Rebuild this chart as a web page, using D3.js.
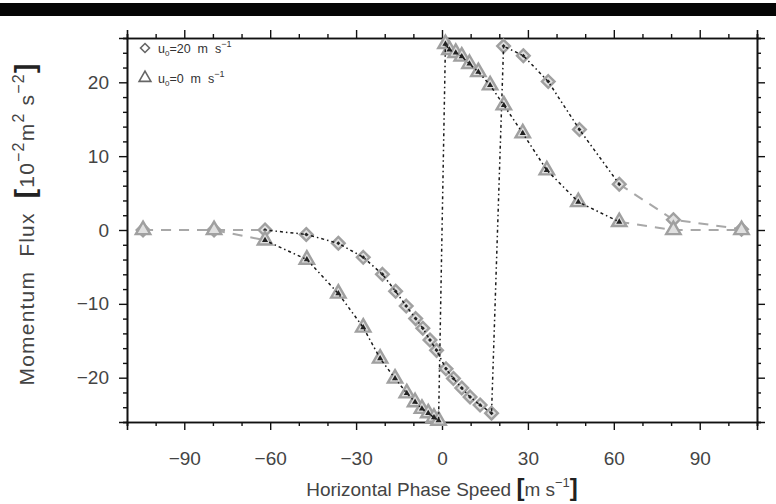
<!DOCTYPE html>
<html>
<head>
<meta charset="utf-8">
<script src="https://cdn.jsdelivr.net/npm/d3@7"></script>
<style>
  body { margin: 0; background: #fff; }
  svg { display: block; font-family: "Liberation Sans", Arial, sans-serif; }
  text { white-space: pre; }
</style>
</head>
<body>
<div id="chart"></div>
<script>
// phase speed (m/s) and momentum flux (10^-2 m^2 s^-2)
const speedU20 = [-104.4, -79.6, -61.8, -47.4, -36.2, -27.5, -20.8, -16.2, -12.5, -9.2, -6.7, -4.2, -1.9,
                  1.4, 4.0, 6.9, 9.8, 13.3, 17.3, 21.5, 28.4, 37.1, 48.0, 61.9, 80.8, 104.6];
const fluxU20  = [0, 0, 0, -0.6, -1.8, -3.7, -6.0, -8.3, -10.3, -12.0, -13.3, -14.9, -16.3,
                  -18.8, -20.1, -21.4, -22.6, -23.7, -24.8, 24.9, 23.6, 20.1, 13.6, 6.2, 1.4, 0.1];

const speedU0 = [-104.4, -79.6, -61.8, -47.2, -36.2, -27.5, -21.6, -16.4, -12.3, -9.4, -7.0, -4.8, -2.8, -1.2,
                 1.2, 2.6, 4.8, 6.9, 9.6, 12.7, 16.8, 21.6, 28.2, 36.6, 47.6, 61.9, 80.8, 104.6];
const fluxU0  = [0, 0, -1.4, -4.0, -8.6, -13.2, -17.4, -20.1, -22.1, -23.3, -24.2, -24.8, -25.4, -25.8,
                 25.2, 24.4, 24.0, 23.5, 22.5, 21.4, 19.6, 16.9, 13.1, 8.1, 3.8, 1.1, 0, 0];

const xMajor = [-90, -60, -30, 0, 30, 60, 90];
const yMajor = [-20, -10, 0, 10, 20];
const innerLimit = 62;   // inside this the dark dash-dot curve is drawn

const W = 776, H = 504;
const m = { top: 38, right: 19, bottom: 82, left: 127 };
const w = W - m.left - m.right, h = H - m.top - m.bottom;

const svg = d3.select("#chart").append("svg").attr("width", W).attr("height", H);

// black strip at the top of the figure
svg.append("rect").attr("x", 0).attr("y", 3).attr("width", W).attr("height", 13).attr("fill", "#050505");

const g = svg.append("g").attr("transform", `translate(${m.left},${m.top})`);

const x = d3.scaleLinear().domain([-110, 110]).range([0, w]);
const y = d3.scaleLinear().domain([-26, 26]).range([h, 0]);

const xMinor = d3.range(-110, 111, 10).filter(v => !xMajor.includes(v));
const yMinor = d3.range(-26, 27, 2).filter(v => !yMajor.includes(v));

function styleAxis(sel) {
    sel.select(".domain").attr("stroke", "#111").attr("stroke-width", 1.6);
    sel.selectAll(".tick line").attr("stroke", "#111").attr("stroke-width", 1.4);
    sel.selectAll(".tick text").attr("fill", "#444").style("font-size", "19px");
}

// minor ticks on all sides
g.append("g").attr("transform", `translate(0,${h})`)
    .call(d3.axisBottom(x).tickValues(xMinor).tickSize(4).tickFormat("")).call(styleAxis);
g.append("g").call(d3.axisTop(x).tickValues(xMinor).tickSize(4).tickFormat("")).call(styleAxis);
g.append("g").call(d3.axisLeft(y).tickValues(yMinor).tickSize(4).tickFormat("")).call(styleAxis);
g.append("g").attr("transform", `translate(${w},0)`)
    .call(d3.axisRight(y).tickValues(yMinor).tickSize(4).tickFormat("")).call(styleAxis);

// major ticks
const fmt = d => d < 0 ? "\u2212" + Math.abs(d) : String(d);
g.append("g").attr("transform", `translate(0,${h})`)
    .call(d3.axisBottom(x).tickValues(xMajor).tickSize(8).tickPadding(22).tickFormat(fmt)).call(styleAxis);
g.append("g").call(d3.axisTop(x).tickValues(xMajor).tickSize(8).tickFormat("")).call(styleAxis);
g.append("g").call(d3.axisLeft(y).tickValues(yMajor).tickSize(8).tickPadding(10).tickFormat(fmt)).call(styleAxis);
g.append("g").attr("transform", `translate(${w},0)`)
    .call(d3.axisRight(y).tickValues(yMajor).tickSize(8).tickFormat("")).call(styleAxis);

const diamond = { draw(ctx, size) { const r = Math.sqrt(size) / 2;
    ctx.moveTo(0, -r); ctx.lineTo(r, 0); ctx.lineTo(0, r); ctx.lineTo(-r, 0); ctx.closePath(); } };

const series = [
    { speed: speedU20, flux: fluxU20, shape: diamond, size: 160 },
    { speed: speedU0, flux: fluxU0, shape: d3.symbolTriangle, size: 90 }
];

const line = d3.line().x(d => x(d.c)).y(d => y(d.f));

series.forEach(s => {
    const pts = s.speed.map((c, i) => ({ c, f: s.flux[i] }));
    const left = pts.filter(d => d.c <= -innerLimit + 0.5);
    const right = pts.filter(d => d.c >= innerLimit - 0.5);
    const inner = pts.filter(d => Math.abs(d.c) <= innerLimit);

    [left, right].forEach(seg => {
        g.append("path").datum(seg)
            .attr("fill", "none").attr("stroke", "#a8a8a8").attr("stroke-width", 2)
            .attr("stroke-dasharray", "10,8").attr("d", line);
    });

    g.selectAll(null).data(pts).enter().append("path")
        .attr("transform", d => `translate(${x(d.c)},${y(d.f)})`)
        .attr("d", d3.symbol().type(s.shape).size(s.size))
        .attr("fill", "#e0e0e0").attr("stroke", "#a0a0a0").attr("stroke-width", 2.4);

    g.append("path").datum(inner)
        .attr("fill", "none").attr("stroke", "#1a1a1a").attr("stroke-width", 1.5)
        .attr("stroke-dasharray", "1.5,3,3,3").attr("d", line);

    g.selectAll(null).data(inner).enter().append("path")
        .attr("transform", d => `translate(${x(d.c)},${y(d.f)})`)
        .attr("d", d3.symbol().type(s.shape).size(16))
        .attr("fill", "#222");
});

// legend
const legend = g.append("g").attr("transform", "translate(18,10)");
const legendRows = [
    { shape: diamond, size: 80, value: "20" },
    { shape: d3.symbolTriangle, size: 60, value: "0" }
];
legendRows.forEach((r, i) => {
    const row = legend.append("g").attr("transform", `translate(0,${i * 30})`);
    row.append("path").attr("d", d3.symbol().type(r.shape).size(r.size))
        .attr("fill", "none").attr("stroke", "#666").attr("stroke-width", 1.6);
    const t = row.append("text").attr("x", 13).attr("y", 5).attr("fill", "#333").style("font-size", "12.5px");
    t.append("tspan").text("u");
    t.append("tspan").attr("dy", 3).style("font-size", "8px").text("0");
    t.append("tspan").attr("dy", -3).text("=" + r.value + "  m  s");
    t.append("tspan").attr("dy", -6).style("font-size", "9px").text("\u22121");
});

// axis titles
const xt = svg.append("text").attr("x", m.left + x(0)).attr("y", 496)
    .attr("text-anchor", "middle").attr("fill", "#444").style("font-size", "19px");
xt.append("tspan").text("Horizontal Phase Speed ");
xt.append("tspan").style("font-size", "24px").style("font-weight", "bold").attr("fill", "#222").text("[");
xt.append("tspan").text("m s");
xt.append("tspan").attr("dy", -9).style("font-size", "13px").text("\u22121");
xt.append("tspan").attr("dy", 9).style("font-size", "24px").style("font-weight", "bold").attr("fill", "#222").text("]");

const yt = svg.append("text").attr("transform", `translate(34,224) rotate(-90)`)
    .attr("text-anchor", "middle").attr("fill", "#444").style("font-size", "21px")
    .style("letter-spacing", "1.2px");
yt.append("tspan").text("Momentum  Flux  ");
yt.append("tspan").style("font-size", "28px").style("font-weight", "bold").attr("fill", "#222").text("[");
yt.append("tspan").text("10");
yt.append("tspan").attr("dy", -10).style("font-size", "16px").text("\u22122");
yt.append("tspan").attr("dy", 10).text("m");
yt.append("tspan").attr("dy", -10).style("font-size", "16px").text("2");
yt.append("tspan").attr("dy", 10).text(" s");
yt.append("tspan").attr("dy", -10).style("font-size", "16px").text("\u22122");
yt.append("tspan").attr("dy", 10).style("font-size", "28px").style("font-weight", "bold").attr("fill", "#222").text("]");
</script>
</body>
</html>
